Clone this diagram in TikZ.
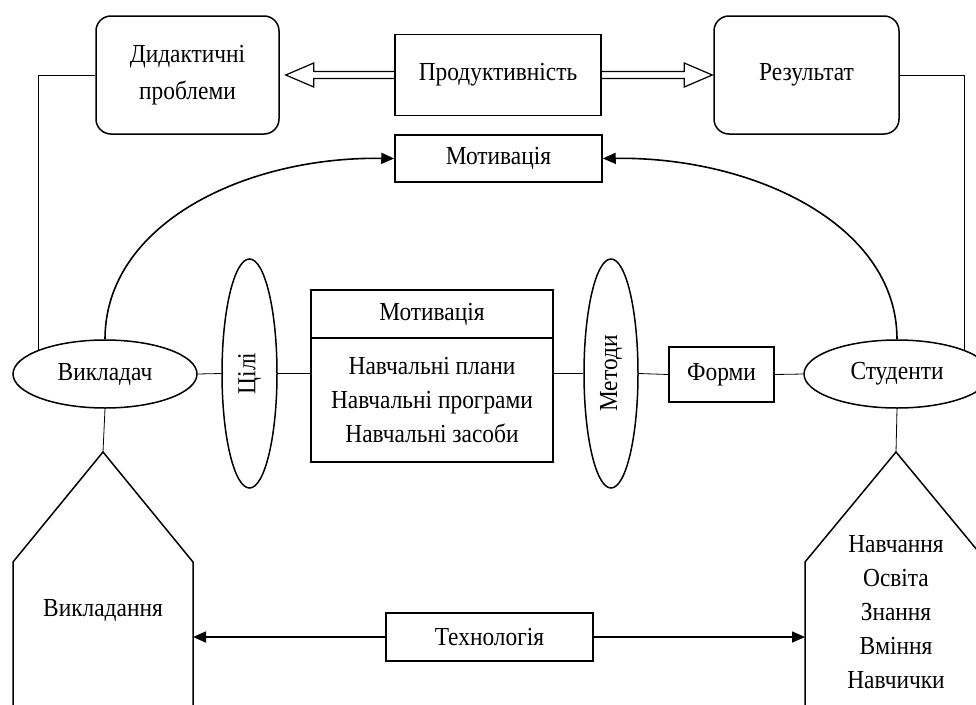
\documentclass[tikz,border=0pt]{standalone}
\usepackage{fontspec}
\setmainfont[FakeStretch=0.9]{Liberation Serif}
\usetikzlibrary{arrows.meta,calc,shapes.geometric}
\begin{document}
\begin{tikzpicture}[x=1pt,y=-1pt,
  txt/.style={font=\fontsize{26}{34}\selectfont},
  rbox/.style={draw, line width=1.5pt, rounded corners=15pt, minimum width=183pt, minimum height=118pt, align=center, txt, inner sep=0pt},
  sbox/.style={draw, line width=1.5pt, align=center, txt, inner sep=0pt},
  oval/.style={draw, ellipse, line width=1.5pt, inner sep=0pt, txt},
  thinline/.style={line width=0.8pt},
  arr/.style={line width=1.6pt, -{Triangle[length=13pt,width=11pt]}},
  dbl/.style={line width=1.2pt},
]
\useasboundingbox (0,0) rectangle (976,704);
\clip (0,0) rectangle (976,704);

% top row
\node[rbox, font=\fontsize{26}{37}\selectfont] (did) at (187.5,75) {Дидактичні\\проблеми};
\node[rbox, minimum width=185pt] (res) at (806.5,75) {Результат};
\node[sbox, minimum width=206pt, minimum height=81pt] (prod) at (498,75) {Продуктивність};
\node[sbox, minimum width=207pt, minimum height=47pt] (mot) at (498.5,158.5) {Мотивація};

% middle row
\node[oval, minimum width=184pt, minimum height=68pt] (vik) at (105,374) {Викладач};
\node[oval, minimum width=55pt, minimum height=229pt] (cili) at (249.5,373.5) {\rotatebox{90}{Цілі}};
\node[sbox, minimum width=242pt, minimum height=48pt] (mtop) at (432,314) {Мотивація};
\node[sbox, minimum width=242pt, minimum height=124pt] (mbot) at (432,400) {Навчальні плани\\Навчальні програми\\Навчальні засоби};
\node[oval, minimum width=54pt, minimum height=229pt] (met) at (611,373.5) {\rotatebox{90}{Методи}};
\node[sbox, minimum width=105pt, minimum height=55pt] (form) at (721.5,374.5) {Форми};
\node[oval, minimum width=186pt, minimum height=68pt] (stud) at (897,374) {Студенти};

% houses
\coordinate (lhapex) at (103,452);
\coordinate (rhapex) at (896,452);
\coordinate (lwall) at (193,637);
\coordinate (rwall) at (805,637);
\draw[line width=1.5pt] (13,710) -- (13,562) -- (lhapex) -- (193,562) -- (193,710);
\draw[line width=1.5pt] (805,710) -- (805,562) -- (rhapex) -- (987,562) -- (987,710);
\node[txt] (vykl) at (103,610) {Викладання};
\node[txt, align=center] (nav) at (896,612) {Навчання\\Освіта\\Знання\\Вміння\\Навчички};
\node[sbox, minimum width=207pt, minimum height=48pt] (tech) at (489.5,637) {Технологія};

% connectors
\draw[thinline] (did.west) -| (vik.160);
\draw[thinline] (res.east) -| (stud.20);
\draw[thinline] (vik.east) -- (cili.west);
\draw[thinline] (cili.east) -- (cili.east -| mbot.west);
\draw[thinline] (met.west -| mbot.east) -- (met.west);
\draw[thinline] (met.east) -- (form.west);
\draw[thinline] (form.east) -- (stud.west);
\draw[thinline] (vik.south) -- (lhapex);
\draw[thinline] (stud.south) -- (rhapex);

\draw[arr] (vik.north) .. controls ($(vik.north)+(0,-115)$) and ($(mot.west)+(-150,-2)$) .. (mot.west);
\draw[arr] (stud.north) .. controls ($(stud.north)+(0,-115)$) and ($(mot.east)+(150,-2)$) .. (mot.east);
\draw[arr] (tech.west) -- (lwall);
\draw[arr] (tech.east) -- (rwall);

% double block arrows
\draw[dbl] ($(prod.west)+(0,-3.5)$) -- ($(did.east)+(34,-3.5)$) -- ($(did.east)+(34,-12)$) -- ($(did.east)+(6,0)$) -- ($(did.east)+(34,12)$) -- ($(did.east)+(34,3.5)$) -- ($(prod.west)+(0,3.5)$);
\draw[dbl] ($(prod.east)+(0,-3.5)$) -- ($(res.west)+(-29,-3.5)$) -- ($(res.west)+(-29,-12)$) -- ($(res.west)+(-1,0)$) -- ($(res.west)+(-29,12)$) -- ($(res.west)+(-29,3.5)$) -- ($(prod.east)+(0,3.5)$);
\end{tikzpicture}
\end{document}
